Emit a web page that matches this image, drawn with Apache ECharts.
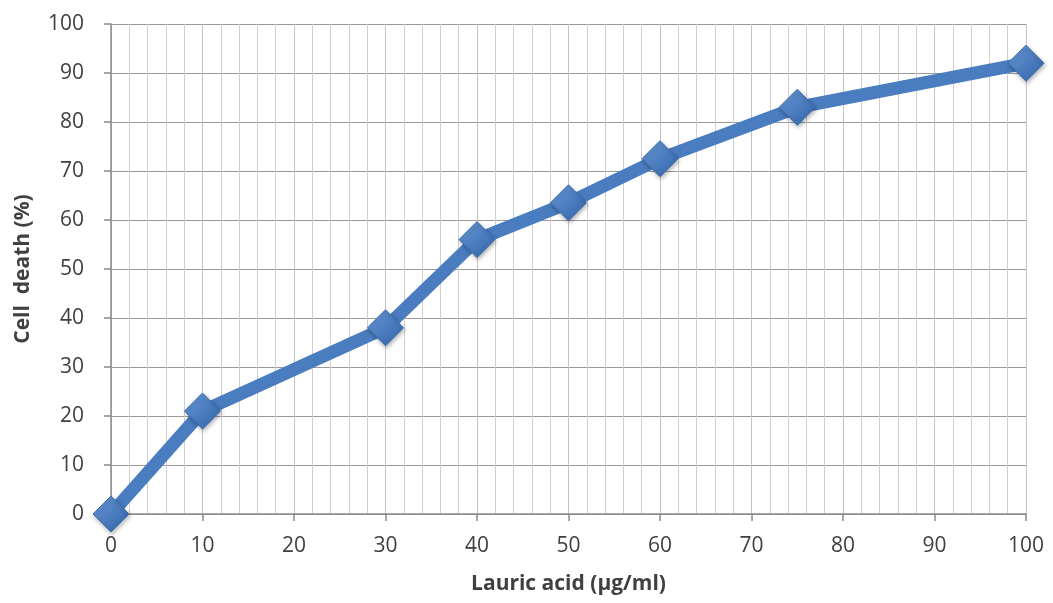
<!DOCTYPE html>
<html><head><meta charset="utf-8">
<script src="https://cdn.jsdelivr.net/npm/echarts@6/dist/echarts.min.js"></script>
<style>html,body{margin:0;padding:0;background:#fff}#c{width:1053px;height:603px}</style>
</head><body><div id="c"></div>
<script>
const concentrations = [0, 10, 30, 40, 50, 60, 75, 100];
const cellDeath = [0, 21, 38, 56, 63.5, 72.5, 83, 92];
const xTitle = 'Lauric acid (µg/ml)';
const yTitle = 'Cell  death (%)';

const chart = echarts.init(document.getElementById('c'));
const labelFont = {color: '#404040', fontSize: 21, fontFamily: 'Open Sans'};
const titleFont = {color: '#404040', fontSize: 21, fontWeight: 'bold', fontFamily: 'Open Sans'};
chart.setOption({
  animation: false,
  backgroundColor: '#fff',
  grid: {left: 111, right: 27, top: 24, bottom: 89},
  xAxis: {
    type: 'value', min: 0, max: 100, interval: 10,
    name: xTitle, nameLocation: 'middle', nameGap: 60,
    nameTextStyle: titleFont,
    axisLine: {show: true, lineStyle: {color: '#8a8a8a', width: 1.5}},
    axisTick: {show: true, length: 7, lineStyle: {color: '#8a8a8a', width: 1.5}},
    axisLabel: Object.assign({margin: 22}, labelFont),
    splitLine: {show: true, lineStyle: {color: '#c4c4c4', width: 1}},
    minorTick: {show: false, splitNumber: 5},
    minorSplitLine: {show: true, lineStyle: {color: '#cfcfcf', width: 1}}
  },
  yAxis: {
    type: 'value', min: 0, max: 100, interval: 10,
    name: yTitle, nameLocation: 'middle', nameGap: 77, nameRotate: 90,
    nameTextStyle: titleFont,
    axisLine: {show: true, lineStyle: {color: '#8a8a8a', width: 1.5}},
    axisTick: {show: true, length: 7, lineStyle: {color: '#8a8a8a', width: 1.5}},
    axisLabel: Object.assign({margin: 27}, labelFont),
    splitLine: {show: true, lineStyle: {color: '#9a9a9a', width: 1.2}}
  },
  series: [{
    type: 'line',
    data: concentrations.map((x, i) => [x, cellDeath[i]]),
    lineStyle: {color: '#4a7cc0', width: 13, cap: 'round', join: 'round'},
    symbol: 'diamond', symbolSize: 36,
    itemStyle: {
      color: new echarts.graphic.LinearGradient(0, 0, 1, 1, [
        {offset: 0, color: '#6a9ad8'}, {offset: 1, color: '#2f62a8'}
      ]),
      borderColor: '#3a6db0', borderWidth: 1,
      shadowColor: 'rgba(0,0,0,0.3)', shadowBlur: 4, shadowOffsetX: 1, shadowOffsetY: 2
    },
    z: 5
  }]
});
</script></body></html>
